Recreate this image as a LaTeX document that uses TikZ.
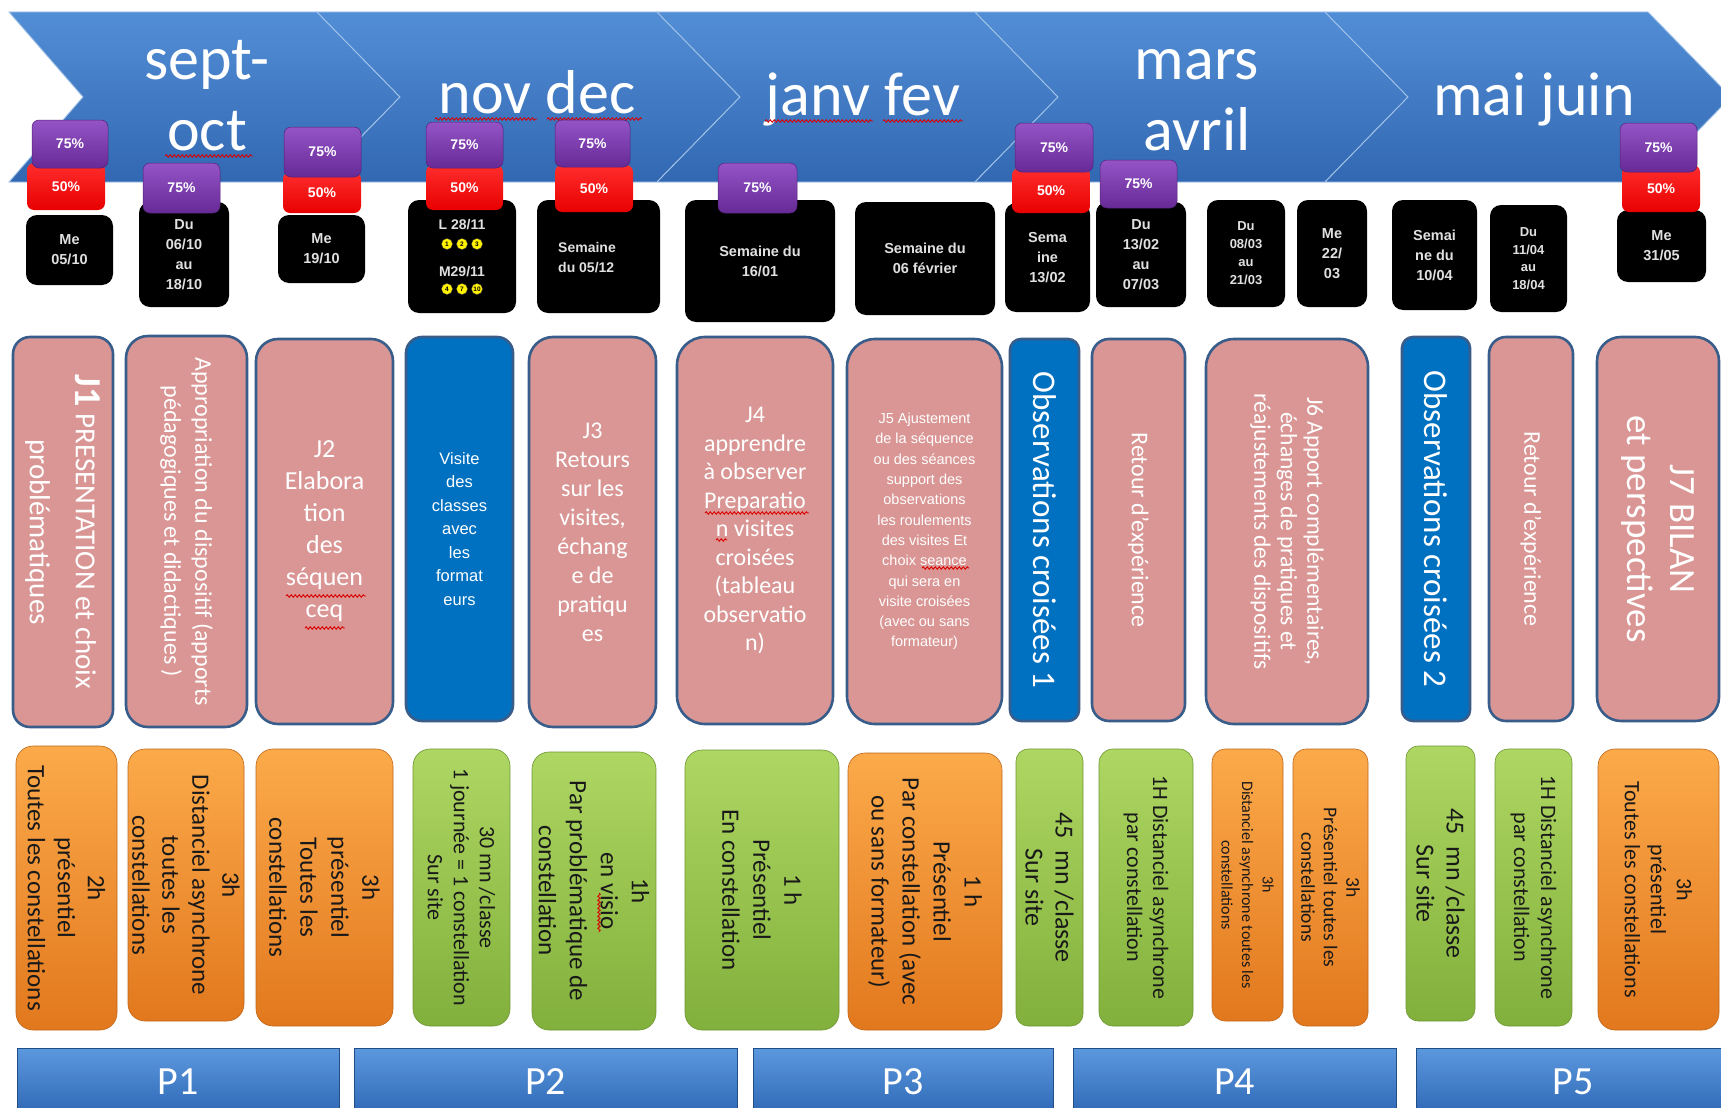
\documentclass[tikz,border=0pt]{standalone}
\usepackage{fontspec}
\setmainfont{Carlito}
\newfontfamily\sqf{Liberation Sans}
\usetikzlibrary{decorations.pathmorphing}
\definecolor{chevtop}{RGB}{82,142,214}
\definecolor{chevbot}{RGB}{50,104,178}
\definecolor{pinkf}{RGB}{217,150,148}
\definecolor{boxline}{RGB}{56,93,138}
\definecolor{obsblue}{RGB}{0,112,192}
\definecolor{orgtop}{RGB}{251,170,74}
\definecolor{orgbot}{RGB}{226,120,30}
\definecolor{grntop}{RGB}{174,214,98}
\definecolor{grnbot}{RGB}{130,176,60}
\definecolor{purtop}{RGB}{148,84,198}
\definecolor{purbot}{RGB}{102,42,150}
\definecolor{redtop}{RGB}{255,45,45}
\definecolor{redbot}{RGB}{232,0,0}
\definecolor{ptop}{RGB}{92,152,222}
\definecolor{pbot}{RGB}{46,104,182}
\newcommand{\fs}[2]{\fontsize{#1}{#2}\selectfont}
\newcommand{\bn}[7]{\node[#1, minimum width={(#5)-(#3)}, minimum height={(#6)-(#4)}] (#2) at ({((#3)+(#5))/2},{((#4)+(#6))/2}) {#7};}
\newcommand{\chev}[3]{\path[chevron] (#1,12) -- (#2,12) -- ({#2+83},97) -- (#2,182) -- (#1,182) -- (#3,97) -- cycle;}
\begin{document}
\begin{tikzpicture}[x=1pt,y=-1pt,
  chevron/.style={top color=chevtop, bottom color=chevbot, draw=chevtop!55!white, line width=0.9},
  month/.style={text=white, font=\fs{62}{70}, inner sep=0, anchor=base},
  wavy/.style={draw=red!85!black, line width=0.9, decorate, decoration={snake, amplitude=1.2pt, segment length=4pt}},
  badge/.style={rounded corners=7, inner sep=0, outer sep=0, text=white, font=\sqf\bfseries\fs{14}{16}},
  pctA/.style={badge, top color=purtop, bottom color=purbot, draw=purbot!80!black, line width=0.5},
  pctB/.style={badge, top color=redtop, bottom color=redbot},
  datebox/.style={rounded corners=11, fill=black, inner sep=0, outer sep=0, text=white!88!black, font=\sqf\bfseries\fs{14.5}{20}, align=center},
  datetxt/.style={text=white!88!black, font=\sqf\bfseries\fs{14}{20}, inner sep=0},
  ycirc/.style={circle, fill=yellow, draw=black!70, line width=0.3, minimum size=11, inner sep=0, text=black, font=\sqf\bfseries\fs{6.5}{7}},
  pinkbox/.style={rounded corners=22, fill=pinkf, draw=boxline, line width=2.6, inner sep=0, outer sep=0, text=white, align=center},
  obsbox/.style={pinkbox, rounded corners=11, fill=obsblue},
  rtext/.style={rotate=-90, align=center, inner sep=0, text=white},
  orgbox/.style={rounded corners=17, top color=orgtop, bottom color=orgbot, draw=orgbot!85!black, line width=0.6, inner sep=0, outer sep=0},
  grnbox/.style={rounded corners=17, top color=grntop, bottom color=grnbot, draw=grnbot!85!black, line width=0.6, inner sep=0, outer sep=0},
  btxt/.style={rotate=-90, align=center, inner sep=0, text=black!90},
  pbar/.style={top color=ptop, bottom color=pbot, draw=pbot!75!black, line width=0.6, inner sep=0, outer sep=0, text=white, font=\fs{40}{44}}
]
\useasboundingbox (0,0) rectangle (1721,1108);
\fill[white] (0,0) rectangle (1721,1108);
\clip (0,0) rectangle (1721,1108);

% chevrons
\chev{9}{317}{83}
\chev{317}{657}{400}
\chev{657}{975}{740}
\chev{975}{1325}{1058}
\chev{1325}{1648}{1408}

\node[month] (m1a) at (207,80) {sept-};
\node[month] (m1b) at (207,150) {oct};
\node[month] (m2) at (537,113) {nov dec};
\node[month] (m3) at (863,115) {janv fev};
\node[month] (m4a) at (1197,80) {mars};
\node[month] (m4b) at (1197,150) {avril};
\node[month] (m5) at (1534,115) {mai juin};

\draw[wavy] (165,156) -- (253,156);
\draw[wavy] (435,119) -- (537,119);
\draw[wavy] (547,119) -- (642,119);
\draw[wavy] (765,121) -- (873,121);
\draw[wavy] (883,121) -- (963,121);

% date boxes
\bn{datebox}{d1}{26}{215}{113}{285}{Me\\05/10}
\bn{datebox}{d2}{139}{202}{229}{307}{Du\\06/10\\au\\18/10}
\bn{datebox}{d3}{278}{215}{365}{283}{Me\\19/10}
\bn{datebox}{d4}{408}{200}{516}{313}{}
\node[datetxt] (d4a) at (462,225) {L 28/11};
\node[datetxt] (d4b) at (462,272) {M29/11};
\foreach \i/\x/\n in {1/447/1,2/462/2,3/477/3} \node[ycirc] (ca\i) at (\x,244) {\n};
\foreach \i/\x/\n in {1/447/4,2/462/7,3/477/10} \node[ycirc] (cb\i) at (\x,289) {\n};
\bn{datebox}{d5}{537}{200}{660}{313}{}
\node[datetxt, align=left, anchor=west] (d5t) at (558,258) {Semaine\\du 05/12};
\bn{datebox}{d6}{685}{200}{835}{322}{Semaine du\\16/01}
\bn{datebox}{d7}{855}{202}{995}{315}{Semaine du\\06 février}
\bn{datebox}{d8}{1005}{203}{1090}{312}{Sema\\ine\\13/02}
\bn{datebox}{d9}{1096}{202}{1186}{307}{Du\\13/02\\au\\07/03}
\bn{datebox, font=\sqf\bfseries\fs{13}{18}}{d10}{1207}{200}{1285}{307}{Du\\08/03\\au\\21/03}
\bn{datebox}{d11}{1297}{200}{1367}{307}{Me\\22/\\03}
\bn{datebox}{d12}{1392}{200}{1477}{310}{Semai\\ne du\\10/04}
\bn{datebox, font=\sqf\bfseries\fs{13}{17.5}}{d13}{1490}{205}{1567}{312}{Du\\11/04\\au\\18/04}
\bn{datebox}{d14}{1617}{210}{1706}{282}{Me\\31/05}

% 50% badges
\bn{pctB}{r1}{27}{163}{105}{210}{50\%}
\bn{pctB}{r3}{283}{172}{361}{213}{50\%}
\bn{pctB}{r4}{426}{165}{503}{210}{50\%}
\bn{pctB}{r5}{555}{165}{633}{212}{50\%}
\bn{pctB}{r8}{1012}{168}{1090}{213}{50\%}
\bn{pctB}{r14}{1622}{165}{1700}{212}{50\%}

% 75% badges
\bn{pctA}{u1}{32}{120}{108}{168}{75\%}
\bn{pctA}{u2}{143}{163}{220}{213}{75\%}
\bn{pctA}{u3}{284}{127}{361}{177}{75\%}
\bn{pctA}{u4}{426}{122}{503}{168}{75\%}
\bn{pctA}{u5}{555}{120}{630}{167}{75\%}
\bn{pctA}{u6}{718}{163}{797}{213}{75\%}
\bn{pctA}{u8}{1015}{123}{1093}{172}{75\%}
\bn{pctA}{u9}{1100}{160}{1177}{208}{75\%}
\bn{pctA}{u14}{1620}{123}{1697}{172}{75\%}

% pink row
\bn{pinkbox, rounded corners=17}{k1}{13}{337}{113}{727}{}
\node[rtext, font=\fs{29}{46}] (k1t) at (k1.center) {{\bfseries\fs{38}{46}J1} PRESENTATION et choix\\problématiques};
\bn{pinkbox}{k2}{126}{336}{247}{727}{}
\node[rtext, font=\fs{24}{31}] (k2t) at (k2.center) {Appropriation du dispositif (apports\\pédagogiques et didactiques )};
\bn{pinkbox, font=\fs{26}{32}}{k3}{256}{339}{393}{724}{J2\\Elabora\\tion\\des\\séquen\\ceq}
\bn{obsbox, rounded corners=16, font=\sqf\fs{16.5}{23.5}}{k4}{406}{337}{513}{721}{Visite\\des\\classes\\avec\\les\\format\\eurs}
\bn{pinkbox, rounded corners=24, font=\fs{24}{29}}{k5}{529}{337}{656}{727}{J3\\Retours\\sur les\\visites,\\échang\\e de\\pratiqu\\es}
\bn{pinkbox, rounded corners=28, font=\fs{24}{28.5}}{k6}{677}{337}{833}{724}{J4\\apprendre\\à observer\\Preparatio\\n visites\\croisées\\(tableau\\observatio\\n)}
\bn{pinkbox, rounded corners=28, font=\sqf\fs{14.5}{20.3}}{k7}{847}{339}{1002}{724}{J5 Ajustement\\de la séquence\\ou des séances\\support des\\observations\\les roulements\\des visites Et\\choix seance\\qui sera en\\visite croisées\\(avec ou sans\\formateur)}
\bn{obsbox}{k8}{1010}{339}{1079}{721}{}
\node[rtext, font=\fs{33}{38}] (k8t) at (k8.center) {Observations croisées 1};
\bn{pinkbox, rounded corners=17}{k9}{1092}{339}{1185}{721}{}
\node[rtext, font=\fs{24}{28}] (k9t) at (k9.center) {Retour d’expérience};
\bn{pinkbox, rounded corners=28}{k10}{1206}{339}{1368}{724}{}
\node[rtext, font=\fs{23.5}{26.5}] (k10t) at (k10.center) {J6 Apport complémentaires,\\échanges de pratiques et\\réajustements des dispositifs};
\bn{obsbox}{k11}{1402}{337}{1470}{721}{}
\node[rtext, font=\fs{33}{38}] (k11t) at (k11.center) {Observations croisées 2};
\bn{pinkbox, rounded corners=17}{k12}{1489}{337}{1573}{721}{}
\node[rtext, font=\fs{24}{28}] (k12t) at (k12.center) {Retour d’expérience};
\bn{pinkbox, rounded corners=24}{k13}{1597}{337}{1719}{721}{}
\node[rtext, font=\fs{37}{43}] (k13t) at (k13.center) {J7 BILAN\\et perspectives};

\draw[wavy] (286,596) -- (366,596);
\draw[wavy] (305,628) -- (345,628);
\draw[wavy] (705,513) -- (809,513);
\draw[wavy] (716,540) -- (727,540);
\draw[wavy] (922,568) -- (969,568);

% bottom row
\bn{orgbox}{b1}{16}{746}{117}{1030}{}
\node[btxt, font=\fs{25}{30}] (b1t) at (b1.center) {2h\\présentiel\\Toutes les constellations};
\bn{orgbox}{b2}{128}{749}{244}{1021}{}
\node[btxt, font=\fs{25}{30}] (b2t) at (b2.center) {3h\\Distanciel asynchrone\\toutes les\\constellations};
\bn{orgbox}{b3}{256}{749}{393}{1026}{}
\node[btxt, font=\fs{25}{31}] (b3t) at (b3.center) {3h\\présentiel\\Toutes les\\constellations};
\bn{grnbox}{b4}{413}{749}{510}{1026}{}
\node[btxt, font=\fs{22}{26}] (b4t) at (b4.center) {30 mn /classe\\1 journée = 1 constellation\\Sur site};
\bn{grnbox}{b5}{532}{752}{656}{1030}{}
\node[btxt, font=\fs{25}{31}] (b5t) at (b5.center) {1h\\en visio\\Par problématique de\\constellation};
\bn{grnbox}{b6}{685}{750}{839}{1030}{}
\node[btxt, font=\fs{25}{31}] (b6t) at (b6.center) {1 h\\Présentiel\\En constellation};
\bn{orgbox}{b7}{848}{753}{1002}{1030}{}
\node[btxt, font=\fs{25}{31}] (b7t) at (b7.center) {1 h\\Présentiel\\Par constellation (avec\\ou sans formateur)};
\bn{grnbox, rounded corners=12}{b8}{1016}{749}{1083}{1026}{}
\node[btxt, font=\fs{26}{30}] (b8t) at (b8.center) {45\ \ mn /classe\\Sur site};
\bn{grnbox, rounded corners=14}{b9}{1099}{749}{1193}{1026}{}
\node[btxt, font=\fs{22}{26}] (b9t) at (b9.center) {1H Distanciel asynchrone\\par constellation};
\bn{orgbox, rounded corners=13}{b10}{1212}{749}{1283}{1021}{}
\node[btxt, font=\fs{16}{20.5}] (b10t) at (b10.center) {3h\\Distanciel asynchrone toutes les\\constellations};
\bn{orgbox, rounded corners=13}{b11}{1293}{749}{1368}{1026}{}
\node[btxt, font=\fs{19.5}{22.5}] (b11t) at (b11.center) {3h\\Présentiel toutes les\\constellations};
\bn{grnbox, rounded corners=12}{b12}{1406}{746}{1475}{1021}{}
\node[btxt, font=\fs{26}{30}] (b12t) at (b12.center) {45\ \ mn /classe\\Sur site};
\bn{grnbox, rounded corners=13}{b13}{1495}{749}{1572}{1026}{}
\node[btxt, font=\fs{22}{27}] (b13t) at (b13.center) {1H Distanciel asynchrone\\par constellation};
\bn{orgbox}{b14}{1598}{749}{1719}{1030}{}
\node[btxt, font=\fs{22}{26}] (b14t) at (b14.center) {3h\\présentiel\\Toutes les constellations};

\draw[wavy] (599,893) -- (599,932);

% period bars
\bn{pbar}{p1}{17}{1048}{339}{1115}{P1}
\bn{pbar}{p2}{354}{1048}{737}{1115}{P2}
\bn{pbar}{p3}{753}{1048}{1053}{1115}{P3}
\bn{pbar}{p4}{1073}{1048}{1396}{1115}{P4}
\bn{pbar}{p5}{1416}{1048}{1730}{1115}{P5}
\end{tikzpicture}
\end{document}
